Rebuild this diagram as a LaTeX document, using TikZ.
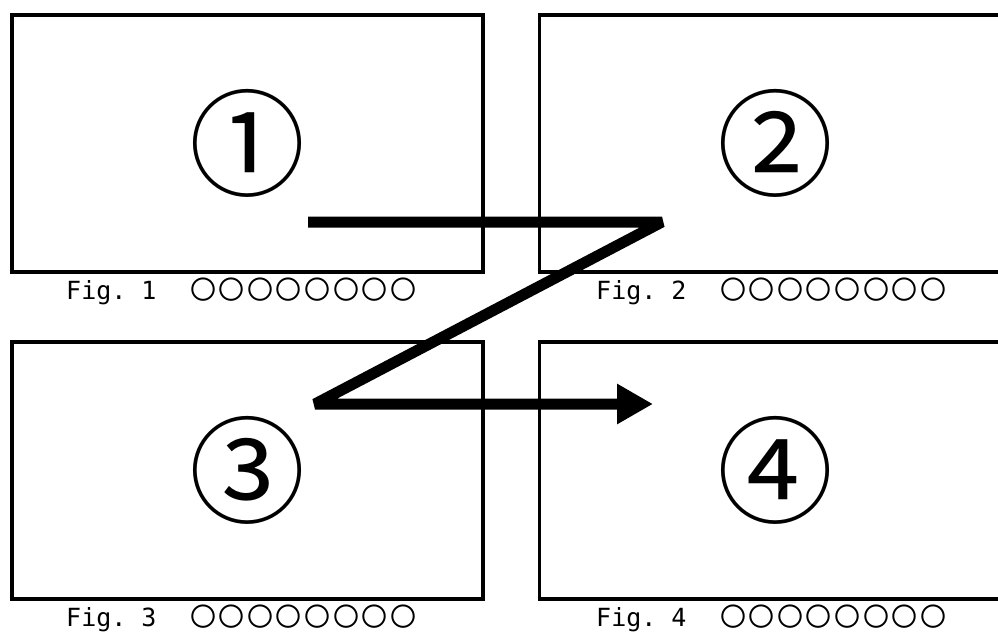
\documentclass[tikz,border=0pt]{standalone}
\usepackage{fontspec}
\usetikzlibrary{arrows.meta}
\newfontfamily\numfont{Noto Sans CJK JP}
\newfontfamily\latfont{DejaVu Sans Mono}
\newfontfamily\cjkfont[LetterSpace=10]{Noto Sans CJK JP}
\newcommand{\capline}[1]{{\latfont\fontsize{25}{25}\selectfont Fig.\ #1}\hspace{33.5pt}{\cjkfont\fontsize{26}{26}\selectfont 〇〇〇〇〇〇〇〇}}

\begin{document}
\begin{tikzpicture}[x=1pt,y=-1pt,
    fbox/.style={draw,line width=3.5pt,minimum width=471pt,minimum height=257pt,inner sep=0pt,font=\numfont\fontsize{116}{116}\selectfont},
    figcap/.style={anchor=base west,inner sep=0pt},
    zline/.style={line width=11pt,line join=bevel}]
    \useasboundingbox (0,0) rectangle (998,632);

    \node[fbox] (1) at (247.5,143.5) {①};
    \node[fbox] (2) at (775,143.5) {②};
    \node[fbox] (3) at (247.5,470.5) {③};
    \node[fbox] (4) at (775,470.5) {④};

    \node[figcap] (1c) at (66,299) {\capline{1}};
    \node[figcap] (2c) at (596,299) {\capline{2}};
    \node[figcap] (3c) at (66,626) {\capline{3}};
    \node[figcap] (4c) at (596,626) {\capline{4}};

    \coordinate (zs) at (308,222);
    \coordinate (za) at (662,222);
    \coordinate (zb) at (315,404);
    \coordinate (ze) at (653,404);
    \draw[zline,-{Triangle[length=36pt,width=38pt]}] (zs) -- (za) -- (zb) -- (ze);
\end{tikzpicture}
\end{document}
